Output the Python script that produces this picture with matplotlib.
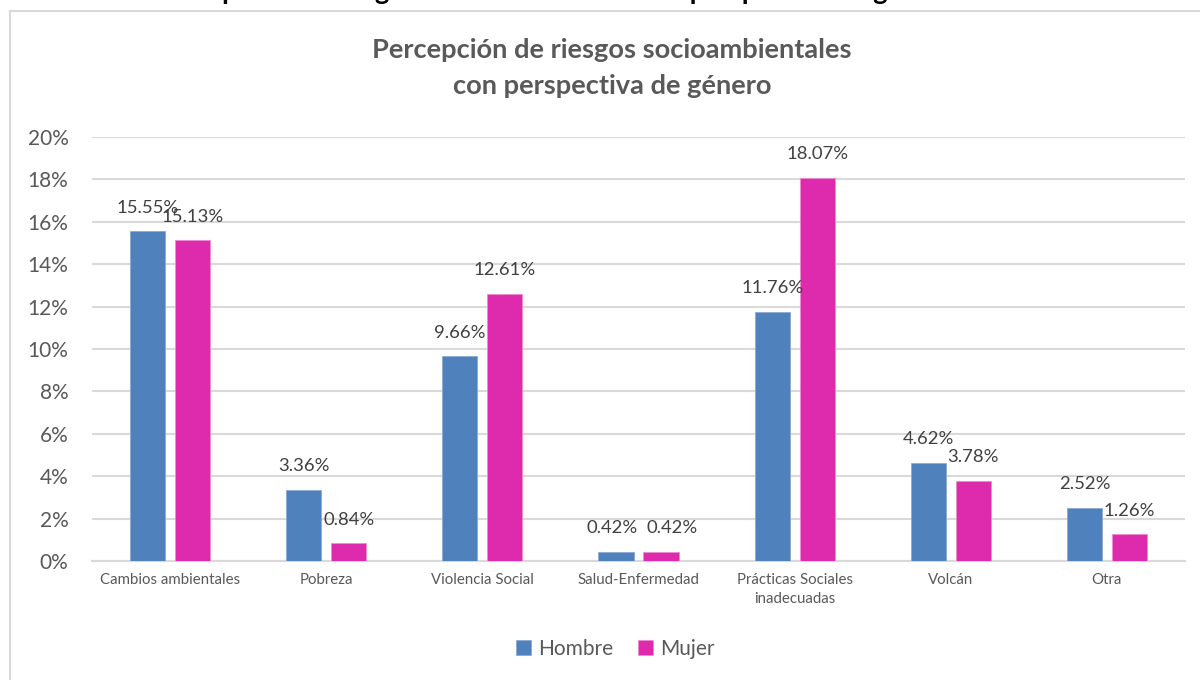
import numpy as np
import matplotlib.pyplot as plt
from matplotlib.lines import Line2D

# Datos de la encuesta (porcentaje de respuestas)
categorias = ["Cambios ambientales", "Pobreza", "Violencia Social", "Salud-Enfermedad",
              "Prácticas Sociales\ninadecuadas", "Volcán", "Otra"]
hombre = [15.55, 3.36, 9.66, 0.42, 11.76, 4.62, 2.52]
mujer = [15.13, 0.84, 12.61, 0.42, 18.07, 3.78, 1.26]

azul = "#4F81BD"
rosa = "#DE2BAD"
gris = "#595959"

plt.rcParams["font.family"] = ["Lato", "DejaVu Sans"]

fig = plt.figure(figsize=(12, 6.8), dpi=100)
ax = fig.add_axes([0.0767, 0.175, 0.9108, 0.6235])

x = np.arange(len(categorias))
ancho = 0.225
desp = 0.144
b1 = ax.bar(x - desp, hombre, ancho, color=azul, edgecolor="#8AA9D3", linewidth=0.6, label="Hombre", zorder=3)
b2 = ax.bar(x + desp, mujer, ancho, color=rosa, edgecolor="#EE8BD2", linewidth=0.6, label="Mujer", zorder=3)

# etiquetas de valor; en Salud-Enfermedad se separan un poco para que no se pisen
for barras, vals, dx in ((b1, hombre, -3), (b2, mujer, 8)):
    for i, (b, v) in enumerate(zip(barras, vals)):
        ax.annotate(f"{v:.2f}%", (b.get_x() + b.get_width() / 2, v),
                    xytext=(dx if i == 3 else 0, 17), textcoords="offset points",
                    ha="center", va="center", fontsize=13.3, color="#404040", zorder=4)

ax.set_xlim(-0.5, len(categorias) - 0.5)
ax.set_ylim(0, 20)
ax.set_yticks(np.arange(0, 21, 2))
ax.set_yticklabels([f"{t}%" for t in range(0, 21, 2)])
ax.set_xticks(x)
ax.set_xticklabels(categorias, fontsize=10.8, color=gris, linespacing=1.4)
ax.tick_params(axis="y", length=0, pad=17, labelsize=15, labelcolor=gris)
ax.tick_params(axis="x", length=0, pad=9)

ax.grid(axis="y", color="#D9D9D9", linewidth=1.5, zorder=0)
for lado in ("top", "right", "left"):
    ax.spines[lado].set_visible(False)
ax.spines["bottom"].set_color("#D9D9D9")
ax.spines["bottom"].set_linewidth(1.5)

# Título interno del gráfico
fig.text(0.51, 1 - 50 / 680, "Percepción de riesgos socioambientales", ha="center", va="center",
         fontsize=19.6, fontweight="bold", color=gris)
fig.text(0.51, 1 - 86 / 680, "con perspectiva de género", ha="center", va="center",
         fontsize=19.6, fontweight="bold", color=gris)

# Encabezado del documento, recortado en el borde superior
fig.text(0.4625, 1.0, "Percepción de riesgos socioambientales con perspectiva de género",
         ha="center", va="baseline", fontsize=19.6, fontweight="bold", color="black")

# Marco del área del gráfico
fig.add_artist(Line2D([10 / 1200, 10 / 1200], [0, 1 - 11 / 680], transform=fig.transFigure,
                      color="#D9D9D9", linewidth=1.5))
fig.add_artist(Line2D([10 / 1200, 1], [1 - 11 / 680, 1 - 11 / 680], transform=fig.transFigure,
                      color="#D9D9D9", linewidth=1.5))

fig.legend(handles=[b1, b2], loc="center", bbox_to_anchor=(615 / 1200, 1 - 649 / 680),
           ncol=2, frameon=False, fontsize=15, labelcolor=gris,
           handlelength=0.75, handleheight=0.75, handletextpad=0.3, columnspacing=1.2)

fig.savefig("out.png", dpi=100)
